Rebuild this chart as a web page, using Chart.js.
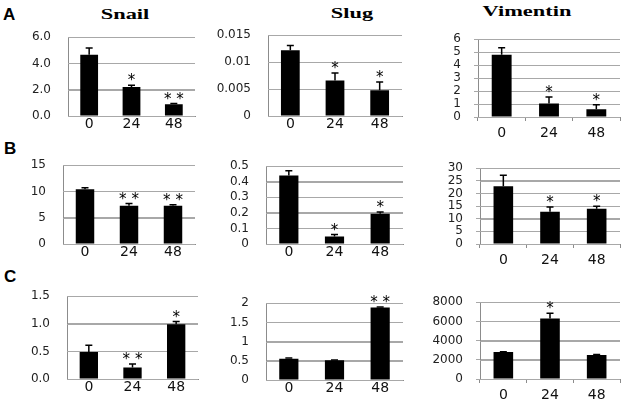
<!DOCTYPE html>
<html><head><meta charset="utf-8">
<script src="https://cdn.jsdelivr.net/npm/chart.js@4"></script>
<style>
html,body{margin:0;padding:0;background:#fff;}
body{width:624px;height:402px;position:relative;overflow:hidden;}
canvas{position:absolute;}
.title{position:absolute;font-family:"Liberation Serif","DejaVu Serif",serif;font-weight:bold;font-size:14px;transform:translateX(-50%) scaleX(1.6);white-space:nowrap;line-height:1;color:#000;}
.letter{position:absolute;font-family:"Liberation Sans",Arial,sans-serif;font-weight:bold;font-size:17px;line-height:1;color:#000;}
</style></head><body>
<div class="letter" style="left:3px;top:6px">A</div>
<div class="letter" style="left:4px;top:140px">B</div>
<div class="letter" style="left:4px;top:268px">C</div>
<div class="title" style="left:125px;top:8px">Snail</div>
<div class="title" style="left:352px;top:7px">Slug</div>
<div class="title" style="left:527px;top:5px">Vimentin</div>
<script>
// ---- data ----
const categories = ['0', '24', '48'];

const snailA = [4.67, 2.2, 0.9];
const snailAErr = [0.5, 0.15, 0.05];
const snailAStars = ['', '*', '* *'];
const snailATicks = [0, 2, 4, 6];
const snailALabels = ['0.0', '2.0', '4.0', '6.0'];

const slugA = [0.0122, 0.0066, 0.0048];
const slugAErr = [0.0009, 0.0014, 0.0015];
const slugAStars = ['', '*', '*'];
const slugATicks = [0, 0.005, 0.01, 0.015];
const slugALabels = ['0', '0.005', '0.01', '0.015'];

const vimA = [4.8, 1.05, 0.6];
const vimAErr = [0.55, 0.5, 0.35];
const vimAStars = ['', '*', '*'];
const vimATicks = [0, 1, 2, 3, 4, 5, 6];
const vimALabels = ['0', '1', '2', '3', '4', '5', '6'];

const snailB = [10.4, 7.3, 7.3];
const snailBErr = [0.3, 0.4, 0.15];
const snailBStars = ['', '* *', '* *'];
const snailBTicks = [0, 5, 10, 15];
const snailBLabels = ['0', '5', '10', '15'];

const slugB = [0.44, 0.048, 0.195];
const slugBErr = [0.03, 0.013, 0.01];
const slugBStars = ['', '*', '*'];
const slugBTicks = [0, 0.1, 0.2, 0.3, 0.4, 0.5];
const slugBLabels = ['0', '0.1', '0.2', '0.3', '0.4', '0.5'];

const vimB = [22.9, 12.8, 14.0];
const vimBErr = [4.3, 1.8, 0.9];
const vimBStars = ['', '*', '*'];
const vimBTicks = [0, 5, 10, 15, 20, 25, 30];
const vimBLabels = ['0', '5', '10', '15', '20', '25', '30'];

const snailC = [0.49, 0.21, 0.99];
const snailCErr = [0.12, 0.06, 0.05];
const snailCStars = ['', '* *', '*'];
const snailCTicks = [0, 0.5, 1, 1.5];
const snailCLabels = ['0.0', '0.5', '1.0', '1.5'];

const slugC = [0.555, 0.515, 1.885];
const slugCErr = [0.015, 0.008, 0.015];
const slugCStars = ['', '', '* *'];
const slugCTicks = [0, 0.5, 1, 1.5, 2];
const slugCLabels = ['0', '0.5', '1', '1.5', '2'];

const vimC = [2800, 6300, 2500];
const vimCErr = [30, 550, 40];
const vimCStars = ['', '*', ''];
const vimCTicks = [0, 2000, 4000, 6000, 8000];
const vimCLabels = ['0', '2000', '4000', '6000', '8000'];

// ---- layout (positions of plot areas) ----
const panels = [
  {values: snailA, errors: snailAErr, stars: snailAStars, ticks: snailATicks, labels: snailALabels, vim: false, box: [68, 27, 195, 116]},
  {values: slugA, errors: slugAErr, stars: slugAStars, ticks: slugATicks, labels: slugALabels, vim: false, box: [268, 25, 402, 116]},
  {values: vimA, errors: vimAErr, stars: vimAStars, ticks: vimATicks, labels: vimALabels, vim: true, box: [478, 33, 620, 117]},
  {values: snailB, errors: snailBErr, stars: snailBStars, ticks: snailBTicks, labels: snailBLabels, vim: false, box: [63, 155, 195, 244]},
  {values: slugB, errors: slugBErr, stars: slugBStars, ticks: slugBTicks, labels: slugBLabels, vim: false, box: [266, 156, 403, 244]},
  {values: vimB, errors: vimBErr, stars: vimBStars, ticks: vimBTicks, labels: vimBLabels, vim: true, box: [480, 162, 620, 244]},
  {values: snailC, errors: snailCErr, stars: snailCStars, ticks: snailCTicks, labels: snailCLabels, vim: false, box: [67, 286, 198, 379]},
  {values: slugC, errors: slugCErr, stars: slugCStars, ticks: slugCTicks, labels: slugCLabels, vim: false, box: [266, 293, 403, 380]},
  {values: vimC, errors: vimCErr, stars: vimCStars, ticks: vimCTicks, labels: vimCLabels, vim: true, box: [480, 296, 620, 379]}
];

// horizontal gridlines at each y tick, drawn from the y scale
const gridPlugin = {
  id: 'hgrid',
  beforeDatasetsDraw(chart) {
    const ctx = chart.ctx;
    const ys = chart.scales.y;
    const area = chart.chartArea;
    ctx.save();
    ctx.strokeStyle = '#a8a8a8';
    ctx.lineWidth = 1;
    ys.ticks.forEach(t => {
      const y = Math.round(ys.getPixelForValue(t.value)) + 0.5;
      ctx.beginPath();
      ctx.moveTo(area.left, y);
      ctx.lineTo(area.right, y);
      ctx.stroke();
    });
    ctx.restore();
  }
};

function errPlugin(p) {
  return {
    id: 'errbars',
    afterDatasetsDraw(chart) {
      const ctx = chart.ctx;
      const meta = chart.getDatasetMeta(0);
      const ys = chart.scales.y;
      ctx.save();
      ctx.strokeStyle = '#000';
      ctx.fillStyle = '#000';
      ctx.lineWidth = 1.5;
      meta.data.forEach((bar, i) => {
        const v = p.values[i], e = p.errors[i];
        const y0 = ys.getPixelForValue(v);
        const y1 = ys.getPixelForValue(v + e);
        ctx.beginPath();
        ctx.moveTo(bar.x, y0);
        ctx.lineTo(bar.x, y1);
        ctx.moveTo(bar.x - 3.5, y1);
        ctx.lineTo(bar.x + 3.5, y1);
        ctx.stroke();
        if (p.stars[i]) {
          ctx.font = '15px "DejaVu Sans"';
          ctx.textAlign = 'center';
          ctx.textBaseline = 'alphabetic';
          ctx.fillText(p.stars[i], bar.x, y1 + 0);
        }
      });
      ctx.restore();
    }
  };
}

function makePanel(p) {
  const yW = 60, padTop = 14, padRight = 6, xH = 30;
  const [l, t, r, b] = p.box;
  const w = (r - l) + yW + padRight;
  const h = (b - t) + padTop + xH;
  const cv = document.createElement('canvas');
  cv.width = w; cv.height = h;
  cv.style.left = (l - yW) + 'px';
  cv.style.top = (t - padTop) + 'px';
  cv.style.width = w + 'px';
  cv.style.height = h + 'px';
  document.body.appendChild(cv);
  const vim = p.vim;
  new Chart(cv, {
    type: 'bar',
    data: {
      labels: categories,
      datasets: [{data: p.values, backgroundColor: '#000', borderWidth: 0, barPercentage: 0.42, categoryPercentage: 1}]
    },
    options: {
      responsive: false,
      animation: false,
      devicePixelRatio: 1,
      layout: {padding: {top: padTop, right: padRight, left: 0, bottom: 0}},
      plugins: {legend: {display: false}, tooltip: {enabled: false}, title: {display: false}},
      scales: {
        x: {
          offset: true,
          grid: {display: true, drawOnChartArea: false, drawTicks: vim, tickLength: 4, color: '#8c8c8c', offset: true},
          border: {display: true, color: '#8c8c8c', width: 1},
          ticks: {font: {family: 'DejaVu Sans', size: 14}, color: '#111', padding: vim ? 4 : 0, maxRotation: 0, autoSkip: false},
          afterFit: s => { s.height = xH; }
        },
        y: {
          min: 0,
          max: p.ticks[p.ticks.length - 1],
          grid: {display: true, drawOnChartArea: true, color: '#a8a8a8', lineWidth: 1, drawTicks: vim, tickLength: 4},
          border: {display: true, color: '#8c8c8c', width: 1},
          afterBuildTicks: s => { s.ticks = p.ticks.map(v => ({value: v})); },
          ticks: {font: {family: 'DejaVu Sans', size: 12}, color: '#222', padding: vim ? 13 : 17, autoSkip: false,
                  callback: (v, i) => p.labels[i]},
          afterFit: s => { s.width = yW; }
        }
      }
    },
    plugins: [gridPlugin, errPlugin(p)]
  });
}

panels.forEach(makePanel);
</script>
</body></html>
